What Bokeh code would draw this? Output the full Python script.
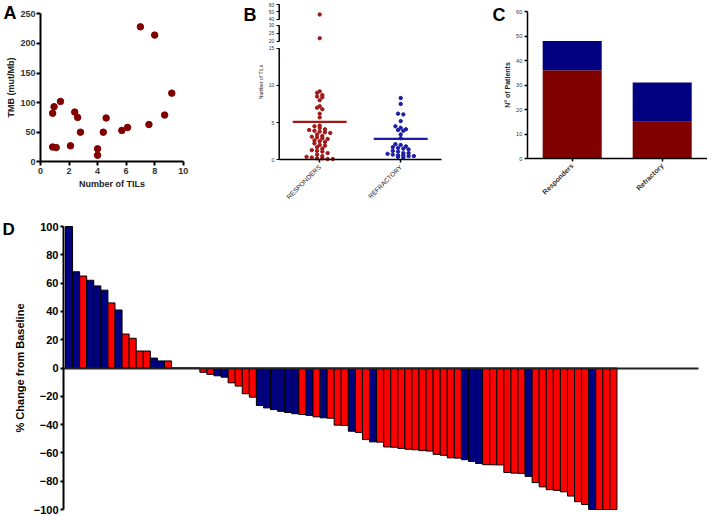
import math
from bokeh.plotting import figure
from bokeh.layouts import row, column
from bokeh.models import (Range1d, FixedTicker, Label, ColumnDataSource,
                          CustomJSTickFormatter)
from bokeh.embed import file_html
from bokeh.resources import INLINE

FONT = "Liberation Sans"

# ---------------- Panel A data ----------------
a_tils = [7.0, 8.0, 9.2, 1.4, 0.95, 0.85, 2.4, 2.6, 4.6, 2.8,
          4.4, 5.7, 6.1, 7.6, 8.7, 0.85, 1.1, 2.1, 4.0, 4.0]
a_tmb = [228, 214, 116, 102, 93, 82, 84, 75, 74, 50,
         50, 53, 58, 63, 79, 25, 24, 27, 22, 11]
a_xticks = [0, 2, 4, 6, 8, 10]
a_yticks = [0, 50, 100, 150, 200, 250]

# ---------------- Panel B data ----------------
b_categories = ["RESPONDERS", "REFRACTORY"]
b_responders = [46.7, 21.9, 9.2, 9.0, 8.7, 8.5, 8.4, 8.0, 7.2, 7.0, 6.8, 6.2,
                5.7, 4.6, 4.5, 4.3, 4.1, 4.0, 3.9, 3.8, 3.7, 3.6, 3.4, 3.2,
                3.1, 3.0, 2.9, 2.8, 2.6, 2.5, 2.4, 2.2, 2.0, 1.9, 1.7, 1.5,
                1.3, 1.2, 1.1, 0.9, 0.7, 0.5, 0.4, 0.3, 0.2, 0.2, 0.1, 0.1]
b_refractory = [8.3, 7.5, 6.2, 6.1, 5.2, 4.5, 4.3, 4.1, 4.0, 3.9, 3.4, 2.9,
                2.1, 2.0, 1.8, 1.7, 1.6, 1.5, 1.4, 1.2, 1.1, 0.9, 0.9, 0.8,
                0.7, 0.6, 0.6, 0.5, 0.5, 0.4, 0.3]
b_means = [5.1, 2.8]
b_tick_values = [0, 5, 10, 15, 20, 25, 30, 40, 50, 60]
b_axis_pieces = [(0, 15), (20, 30), (40, 60)]

# ---------------- Panel C data ----------------
c_categories = ["Responders", "Refractory"]
c_red = [36, 15]
c_blue = [12, 16]
c_yticks = [0, 10, 20, 30, 40, 50, 60]

# ---------------- Panel D data ----------------
d_change = [100, 68, 65, 62, 58, 55, 46, 41, 24, 21, 12, 12, 7, 5, 5,
            0, 0, 0, 0,
            -3, -4.5, -5.5, -6.5, -10.5, -12.8, -18.2, -20.6, -26.5, -28.2,
            -29.4, -30.6, -31.5, -32.3, -32.9, -33.5, -34.5, -35.2, -35.5, -40.4,
            -40.6, -44.7, -45.5, -50.6, -52.2, -52.4, -55.8, -56.0, -56.8, -57.4,
            -57.8, -58.4, -58.7, -61.0, -61.7, -63.5, -63.7, -64.8, -66.0, -67.5,
            -68.3, -68.4, -68.5, -73.8, -74.3, -74.5, -76.6, -81.0, -84.0, -86.0,
            -86.5, -87.5, -90.5, -94.5, -96.5, -100, -100, -100, -100]
d_group = ["B", "B", "R", "B", "B", "B", "R", "B", "R", "R", "R", "R", "B", "B", "R",
           "R", "R", "R", "R",
           "R", "R", "B", "B", "R", "R", "R", "R", "B", "B",
           "B", "B", "B", "B", "R", "B", "R", "B", "R", "R",
           "R", "B", "R", "R", "B", "R", "R", "R", "R", "R",
           "R", "R", "R", "R", "R", "R", "R", "B", "B", "B",
           "R", "R", "R", "R", "R", "R", "B", "R", "R", "R",
           "R", "R", "R", "R", "R", "B", "R", "R", "R"]
d_yticks = list(range(-100, 101, 20))

D_COLORS = {"B": "#000080", "R": "#FF0000"}


class Frame:
    """Maps pixel positions (inside a figure) to data, for a full-canvas frame."""

    def __init__(self, W, H, xd0, xp0, xd1, xp1, yd0, yp0, yd1, yp1):
        self.sx = (xp1 - xp0) / (xd1 - xd0)
        self.xs = xd0 - xp0 / self.sx
        self.xe = self.xs + W / self.sx
        self.sy = (yp0 - yp1) / (yd1 - yd0)
        self.ye = yd1 + yp1 / self.sy
        self.ys = self.ye - H / self.sy

    def x(self, px):
        return self.xs + px / self.sx

    def y(self, py):
        return self.ye - py / self.sy


def make_fig(W, H, fr):
    p = figure(width=W, height=H, x_range=Range1d(fr.xs, fr.xe),
               y_range=Range1d(fr.ys, fr.ye), output_backend="svg",
               toolbar_location=None)
    p.min_border_left = 0
    p.min_border_right = 0
    p.min_border_top = 0
    p.min_border_bottom = 0
    p.outline_line_color = None
    p.xgrid.visible = False
    p.ygrid.visible = False
    p.background_fill_color = "white"
    p.border_fill_color = "white"
    return p


def style_axis(ax, size, color, bold, lw, tick_out, standoff, loc, bounds):
    ax.fixed_location = loc
    ax.bounds = bounds
    ax.axis_line_color = "black"
    ax.axis_line_width = lw
    ax.major_tick_line_color = "black"
    ax.major_tick_line_width = lw
    ax.major_tick_out = tick_out
    ax.major_tick_in = 0
    ax.minor_tick_line_color = None
    ax.major_label_text_font = FONT
    ax.major_label_text_font_size = f"{size}px"
    ax.major_label_text_color = color
    ax.major_label_text_font_style = "bold" if bold else "normal"
    ax.major_label_standoff = standoff
    ax.axis_label_text_font = FONT


def panel_letter(p, fr, text, px, py, size="18px"):
    p.add_layout(Label(x=fr.x(px), y=fr.y(py), text=text, text_font_size=size,
                       text_font_style="bold", text_align="left",
                       text_baseline="top", text_color="black"))


TOP_H = 212

# ================= Panel A =================
A_W = 240
frA = Frame(A_W, TOP_H, 0, 40, 10, 182.7, 0, 161.3, 250, 13.3)
pA = make_fig(A_W, TOP_H, frA)
pA.scatter(a_tils, a_tmb, marker="circle", size=6.5, fill_color="#800000",
           line_color="#800000")
pA.xaxis.ticker = FixedTicker(ticks=a_xticks)
pA.yaxis.ticker = FixedTicker(ticks=a_yticks)
style_axis(pA.xaxis[0], 9, "#333333", True, 2, 4, 2, 0, (0, 10))
style_axis(pA.yaxis[0], 9, "#333333", True, 2, 4, 1, 0, (0, 250))
pA.xaxis.axis_label = "Number of TILs"
pA.yaxis.axis_label = "TMB (mut/Mb)"
pA.xaxis.axis_label_standoff = 2
pA.yaxis.axis_label_standoff = 1
for ax in (pA.xaxis[0], pA.yaxis[0]):
    ax.axis_label_text_font_size = "9px"
    ax.axis_label_text_font_style = "bold"
    ax.axis_label_text_color = "#222222"
panel_letter(pA, frA, "A", 3, 2)

# ================= Panel B =================
# broken axis: (value_lo, value_hi, display_start, display_per_value)
B_SCALE = [(0, 15, 0.0, 1.0), (20, 30, 15.94, 0.211), (40, 60, 18.86, 0.1005)]


def b_disp(v):
    for lo, hi, start, sc in B_SCALE:
        if v <= hi:
            return start + (v - lo) * sc
    lo, hi, start, sc = B_SCALE[-1]
    return start + (v - lo) * sc


def swarm_offsets(disp_vals, row_h, step):
    groups = {}
    for i, d in enumerate(disp_vals):
        groups.setdefault(int(d // row_h), []).append(i)
    off = [0.0] * len(disp_vals)
    for idxs in groups.values():
        n = len(idxs)
        for j, i in enumerate(idxs):
            off[i] = (j - (n - 1) / 2) * step
    return off


B_W = 240
B_TOP = b_disp(60)
frB = Frame(B_W, TOP_H, 0.5, 38.7, 2.5, 200.7, 0, 159.3, B_TOP, 4)
pB = make_fig(B_W, TOP_H, frB)
b_cols = ["#A01818", "#1C1CA8"]
for k, vals in enumerate([b_responders, b_refractory]):
    dv = [b_disp(v) for v in vals]
    offs = swarm_offsets(dv, 0.45, 0.065)
    pB.scatter([k + 1 + o for o in offs], dv, marker="circle", size=3.4,
               fill_color=b_cols[k], line_color=b_cols[k])
    pB.segment(x0=[k + 1 - 0.333], x1=[k + 1 + 0.333], y0=[b_means[k]],
               y1=[b_means[k]], line_color=b_cols[k], line_width=2.2)
# broken y-axis line pieces
pB.segment(x0=[0.5] * 3, x1=[0.5] * 3,
           y0=[b_disp(a) for a, b in b_axis_pieces],
           y1=[b_disp(b) for a, b in b_axis_pieces],
           line_color="black", line_width=1.5)
b_pos = [b_disp(v) for v in b_tick_values]
pB.yaxis.ticker = FixedTicker(ticks=b_pos)
pB.yaxis.formatter = CustomJSTickFormatter(
    args=dict(pos=b_pos, lab=[str(v) for v in b_tick_values]),
    code="""
let best = 0, bd = 1e9;
for (let i = 0; i < pos.length; i++) {
  const d = Math.abs(pos[i] - tick);
  if (d < bd) { bd = d; best = i; }
}
return lab[best];
""")
pB.xaxis.ticker = FixedTicker(ticks=[1, 2])
pB.xaxis.major_label_overrides = {1: b_categories[0], 2: b_categories[1]}
style_axis(pB.yaxis[0], 5, "#333333", False, 1, 3, 2, 0.5, (0, B_TOP))
style_axis(pB.xaxis[0], 6.5, "#222222", False, 1.5, 3, 3, 0, (0.5, 2.5))
pB.yaxis.axis_line_color = None
pB.xaxis.major_label_orientation = math.pi / 4
pB.yaxis.axis_label = "Number of TILs"
pB.yaxis.axis_label_text_font_size = "5px"
pB.yaxis.axis_label_text_font_style = "normal"
pB.yaxis.axis_label_text_color = "#222222"
pB.yaxis.axis_label_standoff = 2
panel_letter(pB, frB, "B", 3, 4)

# ================= Panel C =================
C_W = 227
frC = Frame(C_W, TOP_H, 0.5, 46.7, 2.5, 226.7, 0, 158, 60, 11)
pC = make_fig(C_W, TOP_H, frC)
c_src = ColumnDataSource(dict(x=[1, 2], red=c_red, blue=c_blue))
pC.vbar_stack(["red", "blue"], x="x", width=0.656, source=c_src,
              fill_color=["#800000", "#000080"], line_color=None)
pC.yaxis.ticker = FixedTicker(ticks=c_yticks)
pC.xaxis.ticker = FixedTicker(ticks=[1, 2])
pC.xaxis.major_label_overrides = {1: c_categories[0], 2: c_categories[1]}
style_axis(pC.yaxis[0], 5.5, "#333333", False, 1.5, 3, 2, 0.5, (0, 60))
style_axis(pC.xaxis[0], 7, "#333333", True, 1.5, 3, 3, 0, (0.5, 2.5))
pC.xaxis.major_label_orientation = math.pi / 4
pC.yaxis.axis_label = "N\u00b0 of Patients"
pC.yaxis.axis_label_text_font_size = "7px"
pC.yaxis.axis_label_text_font_style = "bold"
pC.yaxis.axis_label_text_color = "#222222"
pC.yaxis.axis_label_standoff = 2
panel_letter(pC, frC, "C", 12, 4)

# ================= Panel D =================
D_W, D_H = 707, 302
BAR_PX = 7.07
frD = Frame(D_W, D_H, 0, 65, 78, 65 + 78 * BAR_PX, -100, 297, 100, 14)
pD = make_fig(D_W, D_H, frD)
D_AXIS_X = frD.x(63)
D_ZERO_END = frD.x(698)
d_src = ColumnDataSource(dict(x=[i + 0.5 for i in range(len(d_change))],
                              top=d_change,
                              color=[D_COLORS[g] for g in d_group]))
pD.vbar(x="x", top="top", bottom=0, width=1.0, source=d_src,
        fill_color="color", line_color="black", line_width=1)
pD.yaxis.ticker = FixedTicker(ticks=d_yticks)
style_axis(pD.yaxis[0], 11, "black", True, 2, 3, 2, D_AXIS_X, (-100, 100))
pD.xaxis.ticker = FixedTicker(ticks=[])
style_axis(pD.xaxis[0], 1, "black", False, 2, 0, 0, 0, (D_AXIS_X, D_ZERO_END))
pD.xaxis.axis_line_color = "#222222"
pD.yaxis.axis_label = "% Change from Baseline"
pD.yaxis.axis_label_text_font_size = "11px"
pD.yaxis.axis_label_text_font_style = "bold"
pD.yaxis.axis_label_text_color = "black"
pD.yaxis.axis_label_standoff = 5
panel_letter(pD, frD, "D", 2, 7, size="17px")

layout = column(row(pA, pB, pC), pD)
open("out.html", "w").write(file_html(layout, INLINE))
